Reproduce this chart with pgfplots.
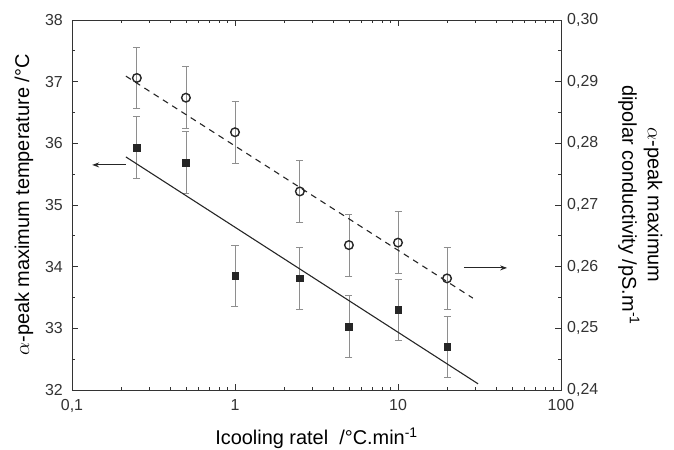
\documentclass[border=0pt]{standalone}
\usepackage{fontspec}
\setmainfont{Liberation Sans}
\usepackage{pgfplots}
\pgfplotsset{compat=1.18}
\usetikzlibrary{arrows.meta}
\definecolor{axisgray}{HTML}{333333}
\definecolor{errgray}{HTML}{8E8E8E}
\newcommand{\tickfont}{\fontsize{16}{18}\selectfont}
\newcommand{\labfont}{\fontsize{20}{25.5}\selectfont}

\begin{document}
\begin{tikzpicture}
\path[use as bounding box] (-72bp,-60bp) rectangle (602bp,390bp);
\begin{axis}[
  scale only axis, width=489bp, height=370bp,
  at={(0,0)}, anchor=south west,
  xmode=log, xmin=0.1, xmax=100,
  tick align=inside,
  major tick length=6bp, minor tick length=3bp,
  every tick/.style={axisgray, line width=0.8pt},
  axis line style={axisgray, line width=0.9pt},
  /pgf/number format/assume math mode=true,
  /pgf/number format/use comma,
  ymin=32, ymax=38, ytick={32,33,...,38}, minor ytick={32.5,33.5,...,37.5},
  ytick pos=left, xtick pos=both,
  log ticks with fixed point,
  xtick={0.1,1,10,100},
  xticklabel style={font=\tickfont, text=axisgray, inner sep=1bp, yshift=-8bp},
  yticklabel style={font=\tickfont, text=axisgray, inner sep=1bp, xshift=-8bp},
  xlabel={Icooling ratel\ \ /°C.min\textsuperscript{-1}},
  ylabel={$\alpha$-peak maximum temperature /°C},
  every axis x label/.style={at={(axis description cs:0.5,-0.13)}, anchor=center, font=\labfont},
  every axis y label/.style={at={(axis description cs:-0.098,0.5)}, rotate=90, anchor=center, font=\labfont},
]
\addplot[only marks, mark=square*, mark size=3.3bp, mark options={fill=black!85, draw=black!85},
  error bars/.cd, y dir=both, y explicit,
  error bar style={errgray, line width=0.8pt},
  error mark options={errgray, rotate=90, mark size=3.5bp, line width=0.8pt}]
  coordinates {
  (0.25,35.93) +- (0,0.5)
  (0.5,35.69) +- (0,0.5)
  (1,33.85) +- (0,0.5)
  (2.5,33.81) +- (0,0.5)
  (5,33.03) +- (0,0.5)
  (10,33.30) +- (0,0.5)
  (20,32.70) +- (0,0.5)
};
\addplot[black!85, line width=1.1pt, no marks] coordinates {(0.214,35.78) (31,32.10)};
\draw[black!85, line width=0.9pt, -{Stealth[length=7bp, width=5bp]}] (axis cs:0.214,35.65) -- (axis cs:0.133,35.65);
\end{axis}

\begin{axis}[
  scale only axis, width=489bp, height=370bp,
  at={(0,0)}, anchor=south west,
  xmode=log, xmin=0.1, xmax=100,
  tick align=inside,
  major tick length=6bp, minor tick length=3bp,
  every tick/.style={axisgray, line width=0.8pt},
  axis line style={axisgray, line width=0.9pt, -},
  /pgf/number format/assume math mode=true,
  axis y line*=right, axis x line=none,
  ymin=0.24, ymax=0.30, ytick={0.24,0.25,...,0.30},
  minor ytick={0.245,0.255,...,0.295},
  yticklabel style={font=\tickfont, text=axisgray, inner sep=1bp, xshift=5bp, /pgf/number format/.cd, fixed, fixed zerofill, precision=2, use comma},
  ylabel={$\alpha$-peak maximum\\dipolar conductivity /pS.m\textsuperscript{-1}},
  every axis y label/.style={at={(axis description cs:1.162,0.5)}, rotate=-90, anchor=center, align=center, font=\labfont},
]
\addplot[only marks, mark=o, mark size=4.3bp, mark options={draw=black!85, line width=1.4pt, fill=white},
  error bars/.cd, y dir=both, y explicit,
  error bar style={errgray, line width=0.8pt},
  error mark options={errgray, rotate=90, mark size=3.5bp, line width=0.8pt}]
  coordinates {
  (0.25,0.2906) +- (0,0.005)
  (0.5,0.2874) +- (0,0.005)
  (1,0.2818) +- (0,0.005)
  (2.5,0.2722) +- (0,0.005)
  (5,0.2635) +- (0,0.005)
  (10,0.2639) +- (0,0.005)
  (20,0.2581) +- (0,0.005)
};
\addplot[black!85, line width=1.1pt, no marks, dash pattern=on 6bp off 5bp] coordinates {(0.214,0.2909) (28.8,0.2549)};
\draw[black!85, line width=0.9pt, -{Stealth[length=7bp, width=5bp]}] (axis cs:25.4,0.2598) -- (axis cs:46.7,0.2598);
\end{axis}
\end{tikzpicture}
\end{document}
